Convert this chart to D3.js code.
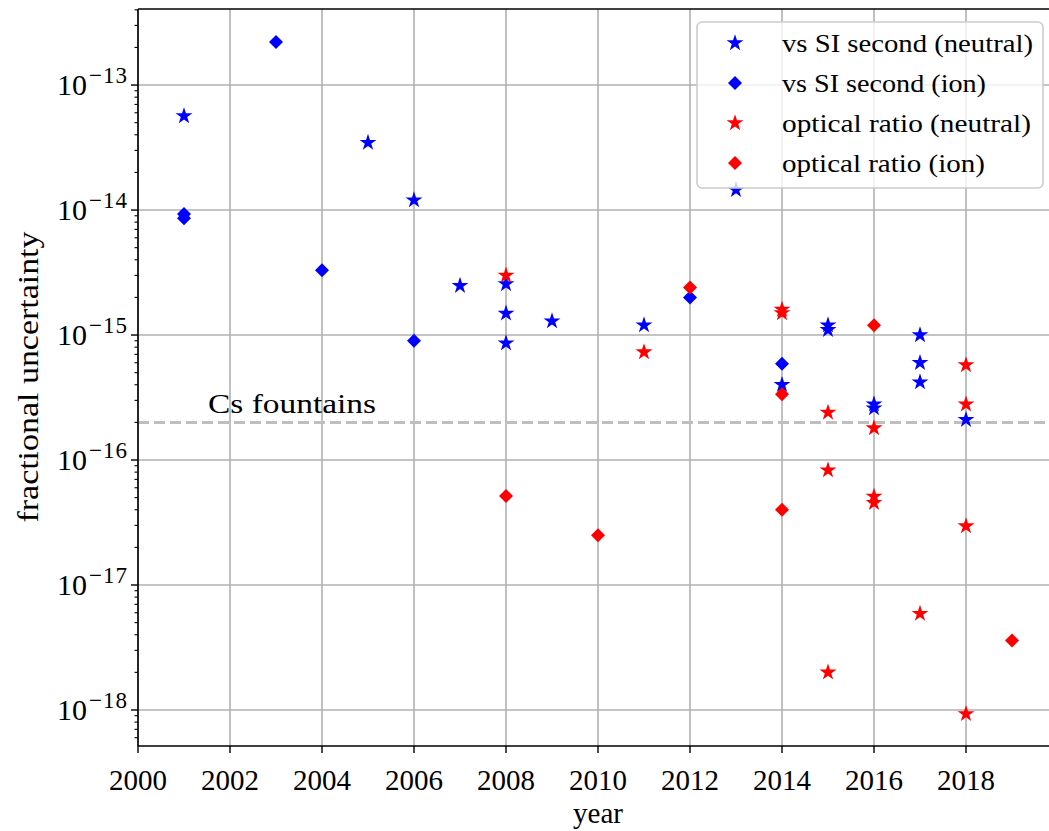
<!DOCTYPE html>
<html><head><meta charset="utf-8">
<script src="https://cdn.jsdelivr.net/npm/d3@7"></script>
<style>body{margin:0;background:#fff}svg{display:block}text{font-family:"Liberation Serif","Times New Roman",serif;fill:#000}</style>
</head><body>
<script>
const siNeutralYears = [2001,2005,2006,2007,2008,2008,2008,2009,2011,2013,2014,2015,2015,2016,2016,2017,2017,2017,2018];
const siNeutralVals  = [5.65e-14,3.46e-14,1.2e-14,2.48e-15,2.56e-15,1.49e-15,8.6e-16,1.29e-15,1.2e-15,1.45e-14,4.0e-16,1.2e-15,1.1e-15,2.8e-16,2.6e-16,1.0e-15,6.0e-16,4.2e-16,2.1e-16];
const siIonYears = [2001,2001,2003,2004,2006,2012,2014];
const siIonVals  = [9.3e-15,8.6e-15,2.21e-13,3.3e-15,9.0e-16,2.0e-15,5.9e-16];
const optNeutralYears = [2008,2011,2014,2014,2015,2015,2015,2016,2016,2016,2017,2018,2018,2018,2018];
const optNeutralVals  = [3.0e-15,7.3e-16,1.6e-15,1.5e-15,2.4e-16,8.3e-17,2.0e-18,1.8e-16,5.1e-17,4.55e-17,5.9e-18,5.75e-16,2.79e-16,2.96e-17,9.3e-19];
const optIonYears = [2008,2010,2012,2014,2014,2016,2019];
const optIonVals  = [5.15e-17,2.5e-17,2.4e-15,3.36e-16,4.0e-17,1.2e-15,3.6e-18];
const seriesNames = ["vs SI second (neutral)","vs SI second (ion)","optical ratio (neutral)","optical ratio (ion)"];
const seriesColors = ["#0000ff","#0000ff","#ff0000","#ff0000"];
const seriesShapes = ["star","diamond","star","diamond"];
const xTickYears = [2000,2002,2004,2006,2008,2010,2012,2014,2016,2018];
const yTickExps = [-13,-14,-15,-16,-17,-18];
const csLevel = 2e-16;
const csLabel = "Cs fountains";
const xLabel = "year", yLabel = "fractional uncertainty";

const W=1049,H=831;
const L=138,R=1049,T=9,B=746;
const svg=d3.select("body").append("svg").attr("width",W).attr("height",H);
const x=d3.scaleLinear().domain([2000,2000+(R-L)/46]).range([L,R]);
const y=d3.scaleLog().domain([5.15e-19,4.06e-13]).range([B,T]);

const grid=svg.append("g");
xTickYears.forEach(v=>grid.append("line").attr("x1",x(v)).attr("x2",x(v)).attr("y1",T).attr("y2",B).attr("stroke","#b0b0b0").attr("stroke-width",1.6));
yTickExps.forEach(e=>grid.append("line").attr("x1",L).attr("x2",R).attr("y1",y(Math.pow(10,e))).attr("y2",y(Math.pow(10,e))).attr("stroke","#b0b0b0").attr("stroke-width",1.6));

// Cs fountains line
svg.append("line").attr("x1",L).attr("x2",R).attr("y1",y(csLevel)).attr("y2",y(csLevel))
  .attr("stroke","#bfbfbf").attr("stroke-width",3).attr("stroke-dasharray","11,5");
svg.append("text").attr("x",208).attr("y",y(csLevel)-9).attr("font-size",28)
  .attr("textLength",168).attr("lengthAdjust","spacingAndGlyphs").text(csLabel);

const star=d3.symbol().type(d3.symbolStar).size(88)();
const diamond="M0,-7L7,0L0,7L-7,0Z";
function shapePath(s){return s==="star"?star:diamond;}

const series=[[siNeutralYears,siNeutralVals],[siIonYears,siIonVals],[optNeutralYears,optNeutralVals],[optIonYears,optIonVals]];
const pts=svg.append("g");
series.forEach((s,i)=>{
  s[0].forEach((yr,j)=>{
    pts.append("path").attr("d",shapePath(seriesShapes[i]))
      .attr("transform",`translate(${x(yr)},${y(s[1][j])})`).attr("fill",seriesColors[i]);
  });
});

// axes
const ax=svg.append("g").attr("stroke","#000");
ax.append("line").attr("x1",L).attr("x2",L).attr("y1",T).attr("y2",B).attr("stroke-width",1.6);
ax.append("line").attr("x1",L).attr("x2",R).attr("y1",B).attr("y2",B).attr("stroke-width",1.6);
ax.append("line").attr("x1",L).attr("x2",R).attr("y1",T).attr("y2",T).attr("stroke-width",1.6);
xTickYears.forEach(v=>{
  ax.append("line").attr("x1",x(v)).attr("x2",x(v)).attr("y1",B).attr("y2",B+7).attr("stroke-width",1.4);
  svg.append("text").attr("x",x(v)).attr("y",790).attr("text-anchor","middle").attr("font-size",29).text(v);
});
for(let e=-19;e<=-13;e++){
  for(let m=1;m<10;m++){
    const v=m*Math.pow(10,e);
    const [d0,d1]=y.domain();
    if(v<d0||v>d1)continue;
    const len=m===1?7:3.5;
    ax.append("line").attr("x1",L-len).attr("x2",L).attr("y1",y(v)).attr("y2",y(v)).attr("stroke-width",m===1?1.4:1.1);
  }
}
yTickExps.forEach(e=>{
  const t=svg.append("text").attr("x",128).attr("y",y(Math.pow(10,e))+10).attr("text-anchor","end").attr("font-size",30);
  t.append("tspan").text("10");
  t.append("tspan").attr("dy",-12).attr("font-size",23).attr("dx",2).attr("letter-spacing",1).text("\u2212"+(-e));
});
svg.append("text").attr("x",598).attr("y",823).attr("text-anchor","middle").attr("font-size",29).text(xLabel);
svg.append("text").attr("transform","translate(38,377) rotate(-90)").attr("text-anchor","middle").attr("font-size",29)
  .attr("textLength",291).attr("lengthAdjust","spacingAndGlyphs").text(yLabel);

// legend
const lg=svg.append("g");
lg.append("rect").attr("x",697).attr("y",22).attr("width",346).attr("height",166).attr("rx",5)
  .attr("fill","#fff").attr("fill-opacity",0.8).attr("stroke","#cccccc").attr("stroke-width",1.6);
const rowY=[43,83,123,163];
const legendWidths=[251,204,249,203];
seriesNames.forEach((n,i)=>{
  lg.append("path").attr("d",shapePath(seriesShapes[i])).attr("transform",`translate(735,${rowY[i]})`).attr("fill",seriesColors[i]);
  lg.append("text").attr("x",782).attr("y",rowY[i]+9).attr("font-size",25)
    .attr("textLength",legendWidths[i]).attr("lengthAdjust","spacingAndGlyphs").text(n);
});
</script>
</body></html>
